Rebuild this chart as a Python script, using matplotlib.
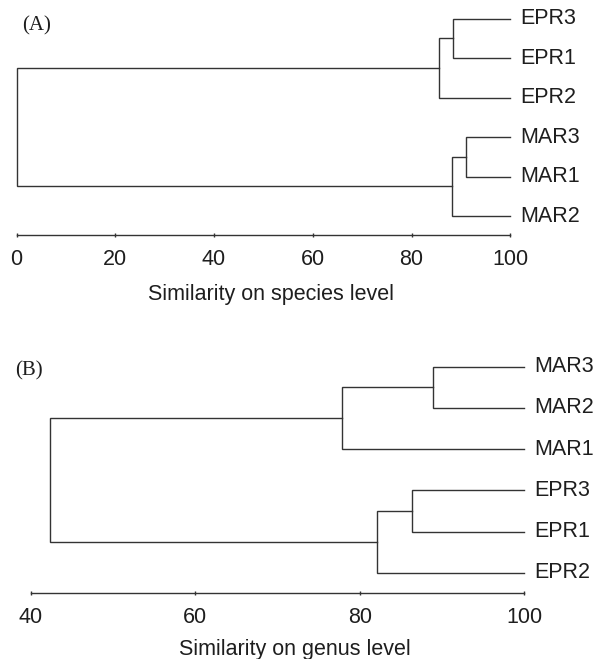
import numpy as np
import matplotlib.pyplot as plt

plt.rcParams['font.family'] = ['Liberation Sans', 'DejaVu Sans']

W, H = 596, 659
LINE = '#333333'
TEXT = '#1e1e1e'

# panel A: similarity on species level
species_leaves = ['EPR3', 'EPR1', 'EPR2', 'MAR3', 'MAR1', 'MAR2']
# (child a, child b, similarity); ids >= number of leaves are earlier merges
species_merges = [(0, 1, 88.3), (6, 2, 85.6), (3, 4, 91.0), (8, 5, 88.1), (7, 9, 0.0)]
species_ticks = [0, 20, 40, 60, 80, 100]

# panel B: similarity on genus level
genus_leaves = ['MAR3', 'MAR2', 'MAR1', 'EPR3', 'EPR1', 'EPR2']
genus_merges = [(0, 1, 88.9), (6, 2, 77.8), (3, 4, 86.3), (8, 5, 82.1), (7, 9, 42.3)]
genus_ticks = [40, 60, 80, 100]


def add_axes_px(fig, x0, x1, ytop, ybot):
    return fig.add_axes([x0 / W, 1 - ybot / H, (x1 - x0) / W, (ybot - ytop) / H])


def draw_tree(ax, leaves, merges, top=100):
    xs = [top] * len(leaves)
    ys = list(range(len(leaves)))
    for a, b, s in merges:
        ax.plot([xs[a], s, s, xs[b]], [ys[a], ys[a], ys[b], ys[b]],
                color=LINE, lw=1.0, solid_joinstyle='miter', clip_on=False)
        xs.append(s)
        ys.append((ys[a] + ys[b]) / 2)
    for i, name in enumerate(leaves):
        ax.annotate(name, (top, i), xytext=(7.5, 0), textcoords='offset points',
                    va='center', ha='left', fontsize=15.5, color=TEXT,
                    annotation_clip=False)


def style_axis(ax, ticks, xlabel):
    for side in ['left', 'top', 'right']:
        ax.spines[side].set_visible(False)
    ax.spines['bottom'].set_color(LINE)
    ax.spines['bottom'].set_linewidth(1.0)
    ax.set_yticks([])
    ax.set_xticks(ticks)
    ax.tick_params(axis='x', direction='inout', length=3.5, width=1.0,
                   color=LINE, labelsize=15.5, labelcolor=TEXT, pad=8)
    ax.set_xlabel(xlabel, fontsize=15.5, color=TEXT)
    ax.patch.set_visible(False)


fig = plt.figure(figsize=(W / 100, H / 100), dpi=100)

axA = add_axes_px(fig, 16.5, 510.3, 8, 235)
draw_tree(axA, species_leaves, species_merges)
axA.set_xlim(0, 100)
axA.set_ylim(5.48, -0.27)
style_axis(axA, species_ticks, 'Similarity on species level')
axA.xaxis.set_label_coords(0.516, -(284 - 235) / 227)

axB = add_axes_px(fig, 31, 524.3, 356, 593.3)
draw_tree(axB, genus_leaves, genus_merges)
axB.set_xlim(40, 100)
axB.set_ylim(5.5, -0.26)
style_axis(axB, genus_ticks, 'Similarity on genus level')
axB.xaxis.set_label_coords(0.535, -(639 - 593.3) / 237.3)

fig.text(22 / W, 1 - 26 / H, '(A)', family='Liberation Serif', fontsize=15,
         color=TEXT, va='center', ha='left')
fig.text(15 / W, 1 - 371 / H, '(B)', family='Liberation Serif', fontsize=15,
         color=TEXT, va='center', ha='left')

fig.savefig('out.png', dpi=100)
